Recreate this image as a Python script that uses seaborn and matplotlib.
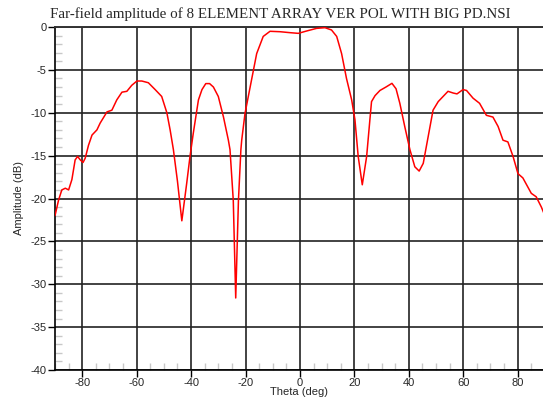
import matplotlib
matplotlib.use("Agg")
import matplotlib.pyplot as plt
import seaborn as sns
from matplotlib.ticker import MultipleLocator

# far-field cut
theta = [-90, -88.7, -87.5, -86.2, -85.0, -83.8, -82.6, -81.7, -80.7, -79.7,
         -78.9, -77.7, -76.4, -74.6, -73.4, -70.9, -69.1, -67.3, -65.4, -63.6,
         -61.8, -59.9, -58.1, -55.7, -53.2, -50.8, -48.9, -47.7, -46.5, -45.0,
         -43.4, -41.6, -40.4, -39.2, -37.3, -36.0, -34.6, -33.2, -31.8, -30.0,
         -28.1, -26.3, -25.7, -24.5, -23.6, -22.6, -21.7, -21.4, -20.2, -18.3,
         -15.9, -13.5, -11.0, -7.3, -3.7, -0.6, 2.4, 6.1, 9.2, 11.6,
         13.5, 15.3, 17.1, 19.0, 20.2, 21.4, 22.9, 24.5, 25.7, 26.3,
         27.6, 29.4, 31.6, 33.8, 35.3, 36.7, 38.5, 40.4, 42.2, 43.8,
         45.3, 47.1, 48.9, 50.8, 52.6, 54.4, 56.3, 57.7, 59.9, 61.2,
         63.6, 66.0, 68.5, 70.9, 72.8, 74.6, 76.4, 78.3, 80.1, 81.9,
         85.0, 86.8, 88.7, 90.0]
amplitude = [-22.0, -20.2, -19.0, -18.8, -19.0, -17.8, -15.5, -15.1, -15.5, -15.8,
             -15.3, -13.8, -12.6, -12.0, -11.2, -9.9, -9.7, -8.5, -7.6, -7.5,
             -6.8, -6.3, -6.3, -6.5, -7.3, -8.1, -10.0, -12.0, -14.3, -18.0,
             -22.6, -18.2, -15.1, -12.4, -8.5, -7.3, -6.6, -6.6, -7.0, -8.1,
             -10.5, -13.2, -14.3, -20.2, -31.6, -20.2, -14.3, -13.2, -10.1, -7.0,
             -3.1, -1.1, -0.5, -0.55, -0.66, -0.74, -0.47, -0.16, -0.08, -0.35,
             -1.1, -3.1, -6.0, -8.5, -10.8, -15.1, -18.4, -15.1, -10.8, -8.7,
             -8.0, -7.4, -7.0, -6.57, -7.2, -8.9, -11.6, -14.3, -16.3, -16.8,
             -15.9, -12.8, -9.7, -8.7, -8.1, -7.5, -7.7, -7.8, -7.3, -7.4,
             -8.3, -8.9, -10.3, -10.5, -11.6, -13.2, -13.4, -15.1, -17.1, -17.6,
             -19.4, -19.8, -21.0, -22.0]

x_ticks = [-80, -60, -40, -20, 0, 20, 40, 60, 80]
y_ticks = [0, -5, -10, -15, -20, -25, -30, -35, -40]

sns.set_style("white")
plt.rcParams['font.family'] = ['Liberation Sans', 'DejaVu Sans']
plt.rcParams['axes.unicode_minus'] = False

fig = plt.figure(figsize=(5.43, 3.99), dpi=100)
ax = fig.add_axes([55 / 543, 1 - 370 / 399, 1 - 55 / 543, (370 - 27) / 399])

sns.lineplot(x=theta, y=amplitude, color='red', linewidth=1.1,
             estimator=None, sort=False, ax=ax, zorder=3)

ax.set_xlim(-90, 89.3)
ax.set_ylim(-40, 0)
ax.set_xticks(x_ticks)
ax.set_yticks(y_ticks)
ax.xaxis.set_minor_locator(MultipleLocator(5))
ax.yaxis.set_minor_locator(MultipleLocator(1))
ax.grid(True, which='major', color='#222222', linewidth=1.2)
ax.set_axisbelow(True)

ax.tick_params(which='major', direction='out', length=5, width=1, color='black',
               labelsize=8, pad=1, left=True, bottom=True)
ax.tick_params(which='minor', direction='in', length=5, width=1, color='#c8c8c8',
               left=True, bottom=True)

ax.spines['right'].set_visible(False)
ax.spines['top'].set_color('#333333')
ax.spines['top'].set_linewidth(1.4)
for side in ['left', 'bottom']:
    ax.spines[side].set_color('black')
    ax.spines[side].set_linewidth(1.2)

ax.set_xlabel('Theta (deg)', fontsize=8, labelpad=-1)
ax.set_ylabel('Amplitude (dB)', fontsize=8, labelpad=5)

fig.text(280 / 543, 1 - 14 / 399,
         'Far-field amplitude of 8 ELEMENT ARRAY VER POL WITH BIG PD.NSI',
         family=['Liberation Serif', 'DejaVu Serif'], fontsize=10.8,
         ha='center', va='center')

fig.savefig('out.png', dpi=100)
